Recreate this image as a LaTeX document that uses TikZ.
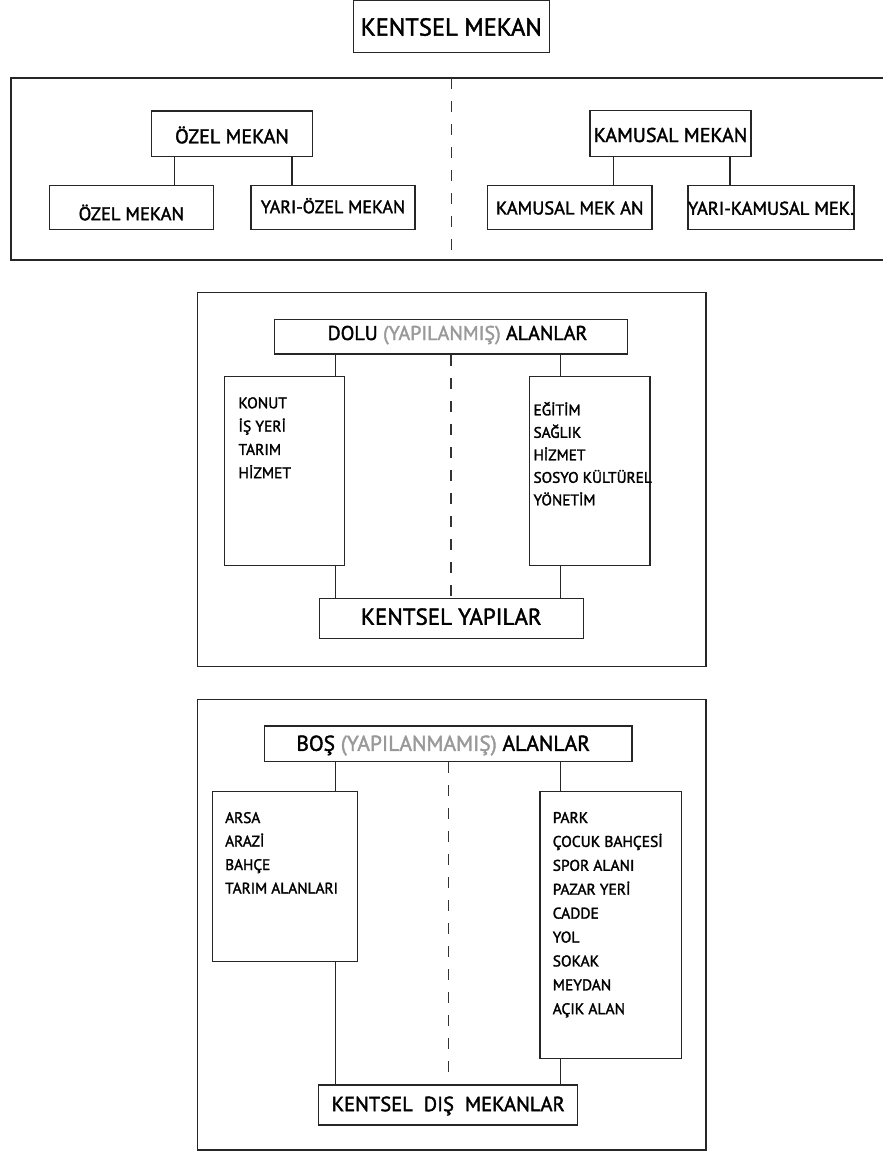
\documentclass[tikz,border=0pt]{standalone}
\usepackage{fontspec}
\setmainfont{PT Sans}[FakeBold=1.8]
\usetikzlibrary{calc}
\usetikzlibrary{positioning}
\tikzstyle{frame} = [draw=black!85, line width=1.5pt]
\tikzstyle{boxnode} = [draw=black!85, line width=1.4pt, inner sep=0pt, text depth=0pt, align=center]
\tikzstyle{listnode} = [anchor=base west, inner sep=0pt]
\tikzstyle{link} = [draw=black!85, line width=1.2pt]
\tikzstyle{divider} = [draw=black!80, line width=1.2pt, dash pattern=on 11pt off 12pt]
\definecolor{softgray}{gray}{0.6}
\newcommand{\itemlist}[1]{\begin{tabular}[t]{@{}l@{}}#1\end{tabular}}

\begin{document}
\begin{tikzpicture}[x=1pt, y=-1pt]
    \useasboundingbox (0,0) rectangle (883,1151);

    % kentsel mekan
    \node[boxnode, minimum width=196pt, minimum height=52pt, font=\fontsize{24.5}{30}\selectfont, text height=17.8pt] (kentsel_mekan) at (451.3,26.7) {KENTSEL MEKAN};
    \draw[frame] (883,78) -- (11,78) -- (11,260) -- (883,260);
    \coordinate (split_top) at (451.5,78);
    \coordinate (split_bottom) at (451.5,260);
    \draw[divider] (split_top) -- (split_bottom);

    \node[boxnode, minimum width=160.6pt, minimum height=45.7pt, font=\fontsize{20}{24}\selectfont, text height=18.8pt] (ozel_top) at (232,133.9) {ÖZEL MEKAN};
    \node[boxnode, minimum width=164pt, minimum height=43.6pt, font=\fontsize{18.5}{22}\selectfont, text height=25.4pt] (ozel_priv) at (131.3,207.5) {ÖZEL MEKAN};
    \node[boxnode, minimum width=164pt, minimum height=43.6pt, font=\fontsize{18}{22}\selectfont, text height=11.4pt] (ozel_semi) at (333,207.5) {YARI-ÖZEL MEKAN};
    \draw[link] ([xshift=-57.7pt]ozel_top.south) -- ([xshift=-57.7pt]ozel_top.south |- ozel_priv.north);
    \draw[link] ([xshift=60pt]ozel_top.south) -- ([xshift=60pt]ozel_top.south |- ozel_semi.north);

    \node[boxnode, minimum width=161pt, minimum height=46pt, font=\fontsize{20}{24}\selectfont, text height=16.6pt] (kamusal_top) at (670.5,133.7) {KAMUSAL MEKAN};
    \node[boxnode, minimum width=164.4pt, minimum height=43.6pt, font=\fontsize{18.5}{22}\selectfont, text height=13.9pt] (kamusal_pub) at (569.8,207.5) {KAMUSAL MEK AN};
    \node[boxnode, minimum width=163.4pt, minimum height=43.6pt, font=\fontsize{18.5}{22}\selectfont, text height=14.6pt] (kamusal_semi) at (771,207.5) {YARI-KAMUSAL MEK.};
    \draw[link] ([xshift=-56.8pt]kamusal_top.south) -- ([xshift=-56.8pt]kamusal_top.south |- kamusal_pub.north);
    \draw[link] ([xshift=59.5pt]kamusal_top.south) -- ([xshift=59.5pt]kamusal_top.south |- kamusal_semi.north);

    % dolu alanlar
    \draw[frame] (197.3,292.7) rectangle (706,666.7);
    \node[boxnode, minimum width=353.4pt, minimum height=34.7pt, font=\fontsize{20}{26}\selectfont, text height=6.6pt] (dolu) at (451,336.7) {\hspace*{13pt}DOLU \textcolor{softgray}{(YAPILANMIŞ)} ALANLAR};
    \node[boxnode, minimum width=120pt, minimum height=189pt] (konut_box) at (284.3,471.2) {};
    \node[boxnode, minimum width=120.7pt, minimum height=189pt] (egitim_box) at (589.7,471.2) {};
    \node[boxnode, minimum width=264pt, minimum height=40pt, font=\fontsize{23}{26}\selectfont, text height=12.9pt] (yapilar) at (451.3,618.3) {KENTSEL YAPILAR};
    \node[listnode, font=\fontsize{15.5}{23.3}\selectfont] (konut_list) at ($(konut_box.north west)+(14.7,32.3)$) {\itemlist{KONUT\\İŞ YERİ\\TARIM\\HİZMET}};
    \node[listnode, font=\fontsize{15.3}{22.5}\selectfont] (egitim_list) at ($(egitim_box.north west)+(4.7,39.3)$) {\itemlist{EĞİTİM\\SAĞLIK\\HİZMET\\SOSYO KÜLTÜREL\\YÖNETİM}};
    \draw[link] ([xshift=51pt]konut_box.north) -- ([xshift=51pt]konut_box.north |- dolu.south);
    \draw[link] ([xshift=51pt]konut_box.south) -- ([xshift=51pt]konut_box.south |- yapilar.north);
    \draw[link] ([xshift=-29.4pt]egitim_box.north) -- ([xshift=-29.4pt]egitim_box.north |- dolu.south);
    \draw[link] ([xshift=-29.4pt]egitim_box.south) -- ([xshift=-29.4pt]egitim_box.south |- yapilar.north);
    \draw[divider] (dolu.south) -- (dolu.south |- yapilar.north);

    % bos alanlar
    \draw[frame] (197.3,699.3) rectangle (706,1150);
    \node[boxnode, minimum width=367.7pt, minimum height=35.7pt, font=\fontsize{21.5}{26}\selectfont, text height=14pt] (bos) at (448.2,743.8) {BOŞ \textcolor{softgray}{(YAPILANMAMIŞ)} ALANLAR\hspace*{10pt}};
    \node[boxnode, minimum width=145pt, minimum height=170pt] (arsa_box) at (284.8,876.7) {};
    \node[boxnode, minimum width=141.7pt, minimum height=266.6pt] (park_box) at (610.8,925) {};
    \node[boxnode, minimum width=259pt, minimum height=40pt, font=\fontsize{20.5}{26}\selectfont, text height=12.3pt] (dis) at (448.2,1105) {KENTSEL\ \ DIŞ\ \ MEKANLAR};
    \node[listnode, font=\fontsize{15.3}{23.5}\selectfont] (arsa_list) at ($(arsa_box.north west)+(13.4,32)$) {\itemlist{ARSA\\ARAZİ\\BAHÇE\\TARIM ALANLARI}};
    \node[listnode, font=\fontsize{15.5}{23.9}\selectfont] (park_list) at ($(park_box.north west)+(13.3,32)$) {\itemlist{PARK\\ÇOCUK BAHÇESİ\\SPOR ALANI\\PAZAR YERİ\\CADDE\\YOL\\SOKAK\\MEYDAN\\AÇIK ALAN}};
    \draw[link] ([xshift=50.5pt]arsa_box.north) -- ([xshift=50.5pt]arsa_box.north |- bos.south);
    \draw[link] ([xshift=50.5pt]arsa_box.south) -- ([xshift=50.5pt]arsa_box.south |- dis.north);
    \draw[link] ([xshift=-50.5pt]park_box.north) -- ([xshift=-50.5pt]park_box.north |- bos.south);
    \draw[link] ([xshift=-50.5pt]park_box.south) -- ([xshift=-50.5pt]park_box.south |- dis.north);
    \draw[divider] (bos.south) -- (bos.south |- dis.north);
\end{tikzpicture}
\end{document}
